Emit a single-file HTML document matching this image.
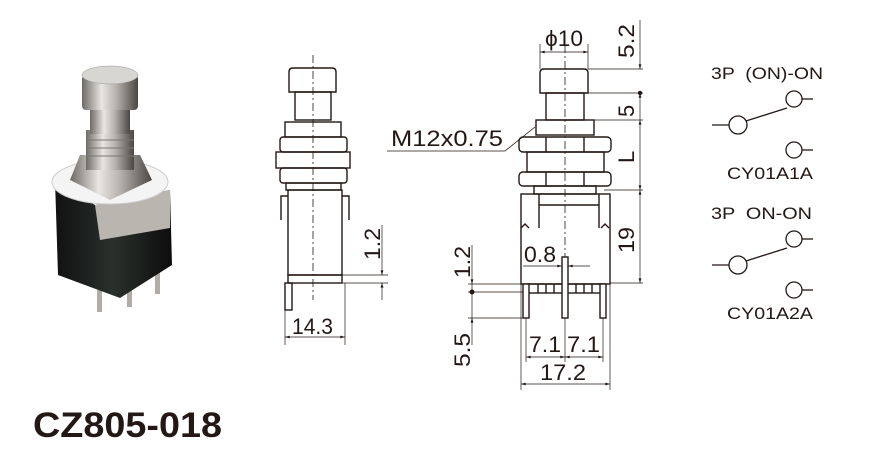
<!DOCTYPE html>
<html><head><meta charset="utf-8"><style>
html,body{margin:0;padding:0;background:#fff;}
svg{display:block;}
text{font-family:"Liberation Sans",Arial,sans-serif;fill:#231815;}
</style></head><body>
<svg width="881" height="450" viewBox="0 0 881 450" xmlns="http://www.w3.org/2000/svg">
<defs>
<linearGradient id="met" x1="0" x2="1"><stop offset="0" stop-color="#6e6a66"/><stop offset="0.35" stop-color="#e8e6e2"/><stop offset="0.6" stop-color="#b8b4ae"/><stop offset="1" stop-color="#4a4642"/></linearGradient>
<linearGradient id="blk" x1="0" x2="1"><stop offset="0" stop-color="#111"/><stop offset="0.5" stop-color="#2a302c"/><stop offset="1" stop-color="#0d0d0d"/></linearGradient>
<marker id="a" viewBox="0 0 10 6" refX="10" refY="3" markerWidth="8" markerHeight="4" orient="auto-start-reverse"><path d="M0,0L10,3L0,6z" fill="#231815"/></marker>
</defs>

<!-- Photo -->
<g>
<rect x="97" y="290" width="5" height="22" fill="#b0aca6"/>
<rect x="127" y="285" width="5" height="22" fill="#b0aca6"/>
<rect x="155" y="272" width="5" height="22" fill="#b0aca6"/>
<polygon points="55,180 95,205 170,190 172,265 120,298 58,275" fill="url(#blk)"/>
<polygon points="95,205 100,240 170,228 170,190" fill="#b9b6b0"/>
<ellipse cx="110" cy="182" rx="58" ry="22" fill="#f4f4f4" stroke="#ccc"/>
<polygon points="70,180 80,155 140,155 152,180 110,200" fill="url(#met)"/>
<rect x="86" y="130" width="48" height="40" fill="url(#met)"/>
<path d="M86,140h48M86,148h48M86,156h48" stroke="#777" stroke-width="1"/>
<rect x="90" y="100" width="40" height="34" fill="url(#met)"/>
<rect x="82" y="75" width="56" height="35" rx="4" fill="url(#met)"/>
<ellipse cx="110" cy="75" rx="28" ry="9" fill="#d8d6d2" stroke="#999" stroke-width="0.5"/>
</g>

<g fill="none" stroke="#231815" stroke-width="1.4">
<!-- middle drawing -->
<line x1="313" y1="55" x2="313" y2="300" stroke-dasharray="8,3,2,3" stroke-width="0.8"/>
<path d="M289,92V72q0,-4 4,-4h39q4,0 4,4v20z"/>
<rect x="295" y="92" width="36" height="28"/>
<rect x="285" y="122" width="56" height="15"/>
<rect x="280" y="137" width="67" height="15" rx="3"/>
<rect x="276" y="152" width="74" height="16"/>
<rect x="280" y="168" width="67" height="15" rx="3"/>
<rect x="286" y="183" width="55" height="7"/>
<rect x="288" y="190" width="54" height="85"/>
<path d="M281,220V196h7M349,220V196h-7"/>
<rect x="288" y="275" width="54" height="8"/>
<rect x="285" y="283" width="7" height="27"/>
<!-- 14.3 -->
<path d="M285,310V345M345,283V345" stroke-width="0.7"/>
<line x1="285" y1="337" x2="345" y2="337" stroke-width="0.7" marker-start="url(#a)" marker-end="url(#a)"/>
<!-- 1.2 left -->
<path d="M342,275H388M342,283H388" stroke-width="0.7"/>
<line x1="382" y1="225" x2="382" y2="275" stroke-width="0.7" marker-end="url(#a)"/>
<line x1="382" y1="300" x2="382" y2="283" stroke-width="0.7" marker-end="url(#a)"/>

<!-- right drawing -->
<line x1="565" y1="45" x2="565" y2="318" stroke-dasharray="8,3,2,3" stroke-width="0.8"/>
<path d="M540,93V73q0,-4 4,-4h40q4,0 4,4v20z"/>
<rect x="546" y="93" width="38" height="27"/>
<rect x="536" y="120" width="58" height="15"/>
<rect x="519" y="137" width="92" height="15" rx="4"/>
<path d="M546,137v15M584,137v15M546,172v14M584,172v14"/>
<rect x="527" y="152" width="77" height="20"/>
<rect x="519" y="172" width="92" height="14" rx="4"/>
<rect x="534" y="186" width="62" height="8"/>
<rect x="521" y="194" width="89" height="90"/>
<path d="M539,194V228M599,194V228M539,205H599M521,228l4,-4 4,4M601,228l4,-4 4,4"/>
<rect x="528" y="284" width="75" height="9"/>
<path d="M538,284v9M546,284v9M554,284v9M576,284v9M584,284v9M592,284v9"/>
<rect x="523" y="284" width="6" height="34" fill="#fff"/>
<rect x="600" y="284" width="6" height="34" fill="#fff"/>
<rect x="562" y="257" width="6" height="61" fill="#fff"/>
<!-- phi10 -->
<path d="M540,44V69M588,44V69" stroke-width="0.7"/>
<line x1="540" y1="52" x2="588" y2="52" stroke-width="0.7" marker-start="url(#a)" marker-end="url(#a)"/>
<!-- right vertical dims -->
<path d="M588,69H643M584,93H643M594,120H643M604,190H643M610,283H643" stroke-width="0.7"/>
<line x1="640" y1="20" x2="640" y2="69" stroke-width="0.7" marker-end="url(#a)"/>
<line x1="640" y1="120" x2="640" y2="93" stroke-width="0.7" marker-end="url(#a)"/>
<line x1="640" y1="120" x2="640" y2="190" stroke-width="0.7" marker-start="url(#a)" marker-end="url(#a)"/>
<line x1="640" y1="190" x2="640" y2="283" stroke-width="0.7" marker-start="url(#a)" marker-end="url(#a)"/>
<circle cx="640" cy="93" r="1.5" fill="#231815"/>
<!-- left dims 1.2 / 5.5 -->
<path d="M468,284H521M468,292H523M468,318H523" stroke-width="0.7"/>
<line x1="472" y1="245" x2="472" y2="284" stroke-width="0.7" marker-end="url(#a)"/>
<line x1="472" y1="345" x2="472" y2="318" stroke-width="0.7" marker-end="url(#a)"/>
<line x1="472" y1="284" x2="472" y2="318" stroke-width="0.7"/>
<circle cx="472" cy="292" r="1.8" fill="#231815"/>
<!-- 0.8 -->
<line x1="523" y1="266" x2="562" y2="266" stroke-width="0.7" marker-end="url(#a)"/>
<line x1="590" y1="266" x2="568" y2="266" stroke-width="0.7" marker-end="url(#a)"/>
<!-- 7.1 7.1 -->
<path d="M526,318V362M565,318V362M603,318V362M521,284V390M610,284V390" stroke-width="0.7"/>
<line x1="526" y1="357" x2="565" y2="357" stroke-width="0.7" marker-start="url(#a)" marker-end="url(#a)"/>
<line x1="565" y1="357" x2="603" y2="357" stroke-width="0.7" marker-start="url(#a)" marker-end="url(#a)"/>
<line x1="521" y1="384" x2="610" y2="384" stroke-width="0.7" marker-start="url(#a)" marker-end="url(#a)"/>
<!-- M12 leader -->
<path d="M387,151H505L535,127" stroke-width="0.8"/>

<!-- schematic -->
<g stroke-width="1.3">
<circle cx="738" cy="125" r="9"/><line x1="712" y1="125" x2="729" y2="125"/>
<line x1="746" y1="121" x2="787" y2="108"/>
<circle cx="794" cy="99" r="8"/><line x1="802" y1="99" x2="813" y2="99"/>
<circle cx="794" cy="150" r="8"/><line x1="802" y1="150" x2="813" y2="150"/>
<circle cx="738" cy="265" r="9"/><line x1="712" y1="265" x2="729" y2="265"/>
<line x1="746" y1="261" x2="787" y2="248"/>
<circle cx="794" cy="239" r="8"/><line x1="802" y1="239" x2="813" y2="239"/>
<circle cx="794" cy="290" r="8"/><line x1="802" y1="290" x2="813" y2="290"/>
</g>
</g>

<!-- texts -->
<g font-size="22" lengthAdjust="spacingAndGlyphs">
<text x="292" y="334" textLength="41" lengthAdjust="spacingAndGlyphs">14.3</text>
<text transform="translate(380,260) rotate(-90)" textLength="32" lengthAdjust="spacingAndGlyphs">1.2</text>
<text x="545" y="46" textLength="38" lengthAdjust="spacingAndGlyphs">ϕ10</text>
<text transform="translate(634,58) rotate(-90)" textLength="34" lengthAdjust="spacingAndGlyphs">5.2</text>
<text transform="translate(634,117) rotate(-90)">5</text>
<text transform="translate(634,163) rotate(-90)">L</text>
<text transform="translate(634,253) rotate(-90)" textLength="26" lengthAdjust="spacingAndGlyphs">19</text>
<text transform="translate(470,278) rotate(-90)" textLength="32" lengthAdjust="spacingAndGlyphs">1.2</text>
<text transform="translate(470,367) rotate(-90)" textLength="34" lengthAdjust="spacingAndGlyphs">5.5</text>
<text x="524" y="262" textLength="32" lengthAdjust="spacingAndGlyphs">0.8</text>
<text x="529" y="352" textLength="32" lengthAdjust="spacingAndGlyphs">7.1</text>
<text x="567" y="352" textLength="33" lengthAdjust="spacingAndGlyphs">7.1</text>
<text x="540" y="380" textLength="46" lengthAdjust="spacingAndGlyphs">17.2</text>
<text x="391" y="146" textLength="112" lengthAdjust="spacingAndGlyphs">M12x0.75</text>
</g>
<g font-size="17">
<text x="711" y="79" textLength="112" lengthAdjust="spacingAndGlyphs" xml:space="preserve">3P  (ON)-ON</text>
<text x="727" y="179" textLength="86" lengthAdjust="spacingAndGlyphs">CY01A1A</text>
<text x="711" y="219" textLength="101" lengthAdjust="spacingAndGlyphs" xml:space="preserve">3P  ON-ON</text>
<text x="727" y="319" textLength="86" lengthAdjust="spacingAndGlyphs">CY01A2A</text>
</g>
<text x="33" y="437" font-size="35" font-weight="bold" textLength="189" lengthAdjust="spacingAndGlyphs">CZ805-018</text>
</svg>
</body></html>
